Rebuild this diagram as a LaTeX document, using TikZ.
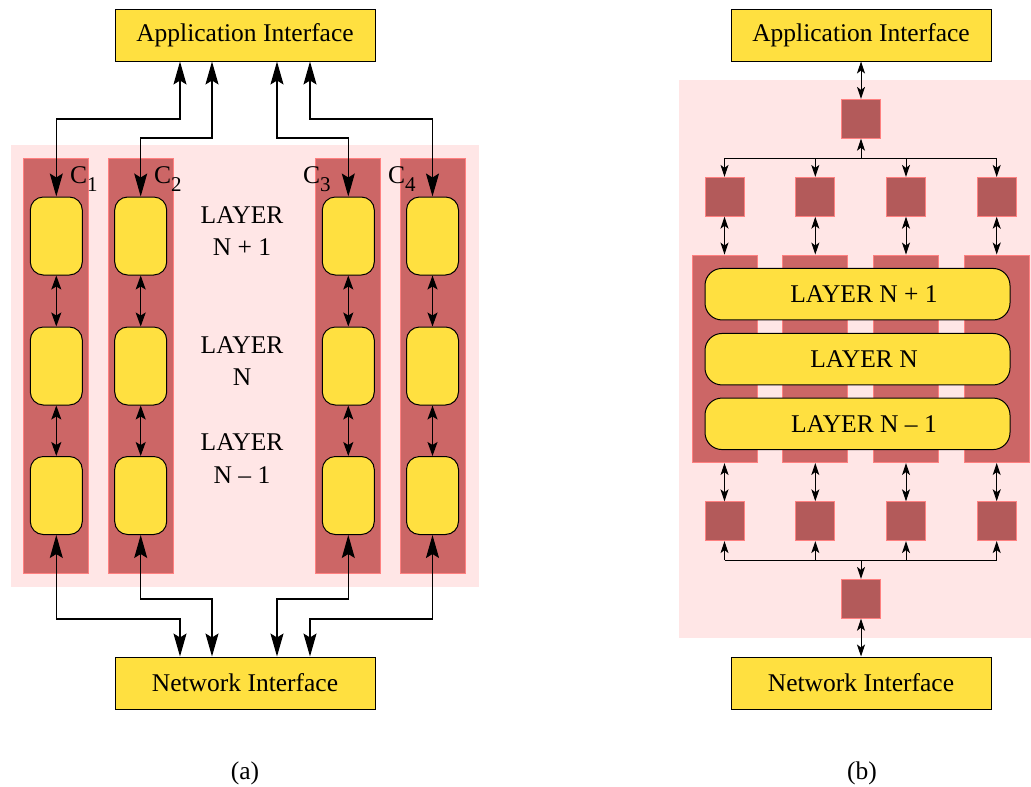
\documentclass[tikz,border=0pt]{standalone}
\usepackage{fontspec}
\setmainfont{Liberation Serif}
\usetikzlibrary{arrows.meta}
\definecolor{yel}{HTML}{FFE040}
\definecolor{colred}{HTML}{CC6666}
\definecolor{sqred}{HTML}{B35A5A}
\definecolor{edgered}{HTML}{FF8080}
\definecolor{bgpink}{HTML}{FFE6E6}
\begin{document}
\begin{tikzpicture}[x=1pt,y=-1pt,
  every node/.style={font=\fontsize{25.5}{32}\selectfont, inner sep=0pt},
  iface/.style={draw=black, line width=1pt, fill=yel, minimum width=260pt, minimum height=52pt},
  cell/.style={draw=black, line width=1pt, fill=yel, rounded corners=13pt, minimum width=52pt, minimum height=78pt},
  column/.style={fill=colred, draw=edgered, line width=0.8pt, minimum width=65pt},
  sq/.style={fill=sqred, draw=edgered, line width=0.8pt, minimum width=39pt, minimum height=39pt},
  bar/.style={draw=black, line width=1pt, fill=yel, rounded corners=17pt, minimum width=305pt, minimum height=51.5pt},
  bigarr/.style={line width=1.1pt, {Stealth[length=23pt,width=13pt,inset=4pt]}-{Stealth[length=23pt,width=13pt,inset=4pt]}},
  midarr/.style={line width=1.1pt, {Stealth[length=14pt,width=10pt,inset=3pt]}-{Stealth[length=14pt,width=10pt,inset=3pt]}},
  smallarr/.style={line width=1pt, {Stealth[length=12pt,width=8pt,inset=3pt]}-{Stealth[length=12pt,width=8pt,inset=3pt]}},
  onearr/.style={line width=1pt, -{Stealth[length=12pt,width=8pt,inset=3pt]}},
  wire/.style={line width=1pt},
  clabel/.style={anchor=base west},
]
\useasboundingbox (0,0) rectangle (1031,787);

%% ---------------- (a) ----------------
\fill[bgpink] (10.7,145) rectangle (479,587);
\node[column, minimum height=415pt] (c1) at (56.2,365.7) {};
\node[column, minimum height=415pt] (c2) at (140.8,365.7) {};
\node[column, minimum height=415pt] (c3) at (348.3,365.7) {};
\node[column, minimum height=415pt] (c4) at (432.7,365.7) {};

\foreach \i/\x in {1/56.3,2/140.7,3/348.3,4/432.5}{
  \node[cell] (y\i1) at (\x,236) {};
  \node[cell] (y\i2) at (\x,366) {};
  \node[cell] (y\i3) at (\x,495.5) {};
  \draw[midarr] (y\i1.south) -- (y\i2.north);
  \draw[midarr] (y\i2.south) -- (y\i3.north);
}

\node[clabel] (lc1) at (70,183) {C\raisebox{-8pt}{\fontsize{21}{21}\selectfont 1}};
\node[clabel] (lc2) at (154,183) {C\raisebox{-8pt}{\fontsize{21}{21}\selectfont 2}};
\node[clabel] (lc3) at (303,183) {C\raisebox{-8pt}{\fontsize{21}{21}\selectfont 3}};
\node[clabel] (lc4) at (388,183) {C\raisebox{-8pt}{\fontsize{21}{21}\selectfont 4}};

\node (la1) at (242,215) {LAYER};
\node (lb1) at (242,247) {N + 1};
\node (la2) at (242,345) {LAYER};
\node (lb2) at (242,377) {N};
\node (la3) at (242,442) {LAYER};
\node (lb3) at (242,475) {N -- 1};

\node[iface] (appL) at (245,35) {Application Interface};
\node[iface] (netL) at (245,683) {Network Interface};

\coordinate (xa1) at (180,0);
\coordinate (xa2) at (212,0);
\coordinate (xa3) at (277,0);
\coordinate (xa4) at (310,0);
\coordinate (ht1) at (0,119);
\coordinate (ht2) at (0,138);
\coordinate (hb1) at (0,619);
\coordinate (hb2) at (0,599);

\draw[bigarr] (appL.south -| xa1) |- (y11.north |- ht1) -- (y11.north);
\draw[bigarr] (appL.south -| xa2) |- (y21.north |- ht2) -- (y21.north);
\draw[bigarr] (appL.south -| xa3) |- (y31.north |- ht2) -- (y31.north);
\draw[bigarr] (appL.south -| xa4) |- (y41.north |- ht1) -- (y41.north);

\draw[bigarr] (y13.south) -- (y13.south |- hb1) -| (netL.north -| xa1);
\draw[bigarr] (y23.south) -- (y23.south |- hb2) -| (netL.north -| xa2);
\draw[bigarr] (y33.south) -- (y33.south |- hb2) -| (netL.north -| xa3);
\draw[bigarr] (y43.south) -- (y43.south |- hb1) -| (netL.north -| xa4);

\node (capa) at (245,773) {(a)};

%% ---------------- (b) ----------------
\fill[bgpink] (679,80) rectangle (1031,638);

\foreach \i/\x in {1/724.5,2/815.3,3/906,4/996.7}{
  \node[column, minimum height=207.7pt] (rc\i) at (\x,358.8) {};
  \node[sq] (sqa\i) at (\x,196.8) {};
  \node[sq] (sqb\i) at (\x,521.2) {};
}
\node[sq] (sqT) at (861,118.8) {};
\node[sq] (sqB) at (861,598.8) {};

\node[bar] (L1) at (857.5,294.2) {};
\node[bar] (L2) at (857.5,359.2) {};
\node[bar] (L3) at (857.5,423.8) {};
\node (t1) at (864,294.2) {LAYER N + 1};
\node (t2) at (864,359.2) {LAYER N};
\node (t3) at (864,423.8) {LAYER N -- 1};

\node[iface] (appR) at (861,35) {Application Interface};
\node[iface] (netR) at (861,683) {Network Interface};

\coordinate (busT) at (0,158.3);
\coordinate (busB) at (0,560);

\draw[smallarr] (appR.south) -- (sqT.north);
\draw[wire] (busT -| sqa1) -- (busT -| sqa4);
\draw[onearr] (busT -| sqT) -- (sqT.south);
\draw[wire] (busB -| sqb1) -- (busB -| sqb4);
\draw[onearr] (busB -| sqB) -- (sqB.north);
\draw[smallarr] (sqB.south) -- (netR.north);
\foreach \i in {1,2,3,4}{
  \draw[onearr] (busT -| sqa\i) -- (sqa\i.north);
  \draw[smallarr] (sqa\i.south) -- (rc\i.north);
  \draw[smallarr] (rc\i.south) -- (sqb\i.north);
  \draw[onearr] (busB -| sqb\i) -- (sqb\i.south);
}

\node (capb) at (862,773) {(b)};
\end{tikzpicture}
\end{document}
